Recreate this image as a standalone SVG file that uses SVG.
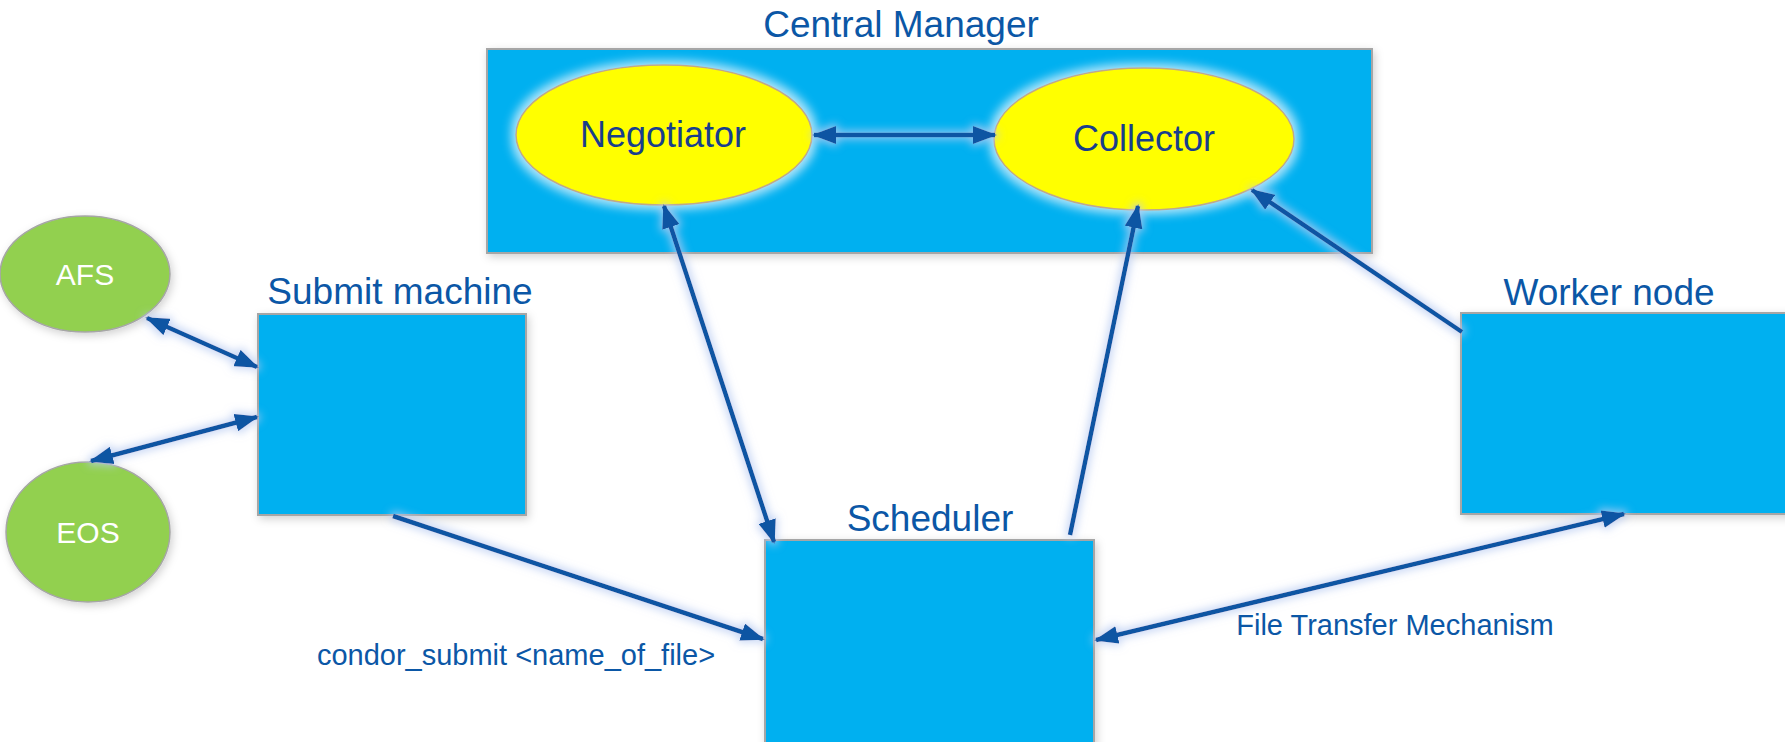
<svg xmlns="http://www.w3.org/2000/svg" width="1785" height="742" viewBox="0 0 1785 742">
  <defs>
    <style>
      .box { fill: #00B0F0; stroke: #A6A6A6; stroke-width: 2; filter: url(#boxShadow); }
      .oval { fill: #FFFF00; stroke: #BFA98A; stroke-width: 1.5; filter: url(#ovalGlow); }
      .store { fill: #92D050; stroke: #A6A6A6; stroke-width: 1.5; filter: url(#boxShadow); }
      .title { font-family: "Liberation Sans", Arial, sans-serif; font-size: 37px; fill: #0B57A6; text-anchor: middle; }
      .inner { font-family: "Liberation Sans", Arial, sans-serif; font-size: 36px; fill: #183E8C; text-anchor: middle; }
      .storeText { font-family: "Liberation Sans", Arial, sans-serif; font-size: 30px; fill: #FFFFFF; text-anchor: middle; }
      .label { font-family: "Liberation Sans", Arial, sans-serif; font-size: 29px; fill: #0B57A6; text-anchor: middle; }
      .link { stroke: #0B55A3; stroke-width: 4.5; fill: none; filter: url(#lineGlow); }
      .one { marker-end: url(#head); }
      .both { marker-start: url(#head); marker-end: url(#head); }
    </style>
    <marker id="head" viewBox="0 0 24 18" markerWidth="24" markerHeight="18" refX="22" refY="9" orient="auto-start-reverse" markerUnits="userSpaceOnUse">
      <path d="M0,0 L24,9 L0,18 Z" fill="#0B55A3"/>
    </marker>
    <filter id="boxShadow" x="-10%" y="-10%" width="120%" height="120%">
      <feGaussianBlur in="SourceAlpha" stdDeviation="4"/>
      <feOffset dx="2" dy="3" result="b"/>
      <feFlood flood-color="#000000" flood-opacity="0.18"/>
      <feComposite in2="b" operator="in"/>
      <feMerge><feMergeNode/><feMergeNode in="SourceGraphic"/></feMerge>
    </filter>
    <filter id="ovalGlow" x="-20%" y="-25%" width="140%" height="150%">
      <feMorphology in="SourceAlpha" operator="dilate" radius="4"/>
      <feGaussianBlur stdDeviation="5" result="b"/>
      <feFlood flood-color="#B5E6FA" flood-opacity="0.95"/>
      <feComposite in2="b" operator="in"/>
      <feMerge><feMergeNode/><feMergeNode in="SourceGraphic"/></feMerge>
    </filter>
    <!-- user-space region so that horizontal lines keep their glow -->
    <filter id="lineGlow" filterUnits="userSpaceOnUse" x="0" y="0" width="1785" height="742">
      <feMorphology in="SourceAlpha" operator="dilate" radius="2"/>
      <feGaussianBlur stdDeviation="4" result="b"/>
      <feFlood flood-color="#B9CCF2" flood-opacity="0.8"/>
      <feComposite in2="b" operator="in"/>
      <feMerge><feMergeNode/><feMergeNode in="SourceGraphic"/></feMerge>
    </filter>
  </defs>

  <rect width="1785" height="742" fill="#FFFFFF"/>

  <!-- Central manager pool with its two daemons -->
  <g id="central-manager">
    <text class="title" x="901" y="37">Central Manager</text>
    <rect class="box" x="487" y="49" width="885" height="204"/>
  </g>
  <g id="negotiator">
    <ellipse class="oval" cx="664" cy="135" rx="148" ry="70"/>
    <text class="inner" x="663" y="147">Negotiator</text>
  </g>
  <g id="collector">
    <ellipse class="oval" cx="1144" cy="139" rx="150" ry="71"/>
    <text class="inner" x="1144" y="151">Collector</text>
  </g>

  <!-- Storage -->
  <g id="afs">
    <ellipse class="store" cx="85" cy="274" rx="85" ry="58"/>
    <text class="storeText" x="85" y="285">AFS</text>
  </g>
  <g id="eos">
    <ellipse class="store" cx="88" cy="532" rx="82" ry="70"/>
    <text class="storeText" x="88" y="543">EOS</text>
  </g>

  <!-- Machines -->
  <g id="submit-machine">
    <text class="title" x="400" y="304">Submit machine</text>
    <rect class="box" x="258" y="314" width="268" height="201"/>
  </g>
  <g id="scheduler">
    <text class="title" x="930" y="531">Scheduler</text>
    <rect class="box" x="765" y="540" width="329" height="210"/>
  </g>
  <g id="worker-node">
    <text class="title" x="1609" y="305">Worker node</text>
    <rect class="box" x="1461" y="313" width="340" height="201"/>
  </g>

  <!-- Connectors -->
  <g id="connectors">
    <line class="link both" x1="814" y1="135" x2="995" y2="135"/>
    <line class="link both" x1="664" y1="206" x2="774" y2="542"/>
    <line class="link one" x1="1070" y1="535" x2="1138" y2="206"/>
    <line class="link one" x1="1462" y1="332" x2="1252" y2="190"/>
    <line class="link both" x1="1096" y1="640" x2="1624" y2="514"/>
    <line class="link one" x1="393" y1="516" x2="763" y2="639"/>
    <line class="link both" x1="147" y1="318" x2="257" y2="367"/>
    <line class="link both" x1="91" y1="461" x2="257" y2="417"/>
  </g>

  <g id="labels">
    <text class="label" x="516" y="665">condor_submit &lt;name_of_file&gt;</text>
    <text class="label" x="1395" y="635">File Transfer Mechanism</text>
  </g>
</svg>
